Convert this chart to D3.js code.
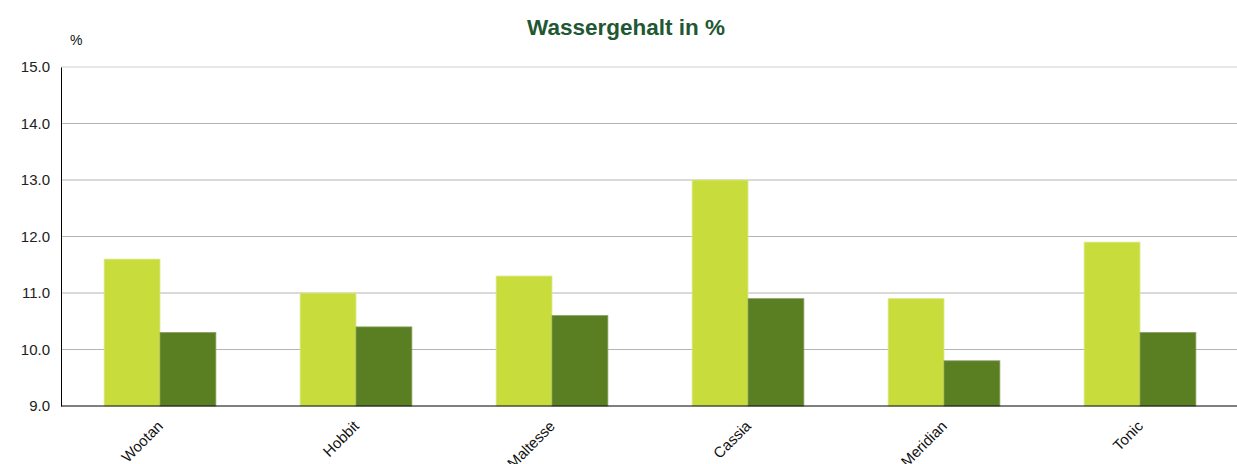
<!DOCTYPE html>
<html>
<head>
<meta charset="utf-8">
<script src="https://cdn.jsdelivr.net/npm/d3@7"></script>
<style>
  body { margin: 0; background: #fff; }
  text { font-family: "Liberation Sans", Arial, sans-serif; }
</style>
</head>
<body>
<script>
// chart data
var sorten = ["Wootan", "Hobbit", "Maltesse", "Cassia", "Meridian", "Tonic"];
var serieHell = [11.6, 11.0, 11.3, 13.0, 10.9, 11.9];
var serieDunkel = [10.3, 10.4, 10.6, 10.9, 9.8, 10.3];
var yTicks = [9, 10, 11, 12, 13, 14, 15];

var width = 1237, height = 464;
var margin = {top: 67, right: 0, bottom: 58, left: 61};

var svg = d3.select("body").append("svg")
    .attr("width", width)
    .attr("height", height);

var x = d3.scaleBand()
    .domain(sorten)
    .range([margin.left + 1, width + 1])
    .paddingInner(0.43)
    .paddingOuter(0.215);

var y = d3.scaleLinear()
    .domain([9, 15])
    .range([height - margin.bottom, margin.top]);

//gridlines
svg.append("g").selectAll("line")
    .data(yTicks.slice(1))
    .enter().append("line")
    .attr("x1", margin.left)
    .attr("x2", width)
    .attr("y1", function(d){ return y(d); })
    .attr("y2", function(d){ return y(d); })
    .attr("stroke", function(d){ return d === 15 ? "#d0d0d0" : "#b4b4b4"; })
    .attr("stroke-width", 1);

var half = x.bandwidth() / 2;

//bars
var groups = svg.append("g").selectAll("g")
    .data(sorten)
    .enter().append("g");

groups.append("rect")
    .attr("x", function(d){ return x(d); })
    .attr("y", function(d, i){ return y(serieHell[i]); })
    .attr("width", half)
    .attr("height", function(d, i){ return y(9) - y(serieHell[i]); })
    .attr("fill", "#c8dc3c")
    .attr("stroke", "#dbe88a")
    .attr("stroke-width", 0.8);

groups.append("rect")
    .attr("x", function(d){ return x(d) + half; })
    .attr("y", function(d, i){ return y(serieDunkel[i]); })
    .attr("width", half)
    .attr("height", function(d, i){ return y(9) - y(serieDunkel[i]); })
    .attr("fill", "#5a7e22")
    .attr("stroke", "#86a05e")
    .attr("stroke-width", 0.8);

// y axis
var yAxis = svg.append("g")
    .attr("transform", "translate(" + margin.left + ",0)")
    .call(d3.axisLeft(y).tickValues(yTicks).tickFormat(d3.format(".1f")).tickSize(0).tickPadding(11));
yAxis.select(".domain").attr("stroke", "#000");
yAxis.selectAll("text").attr("font-size", 15).attr("fill", "#222")
    .attr("font-family", "Liberation Sans, Arial, sans-serif");

// x axis
var xAxis = svg.append("g")
    .attr("transform", "translate(0," + y(9) + ")")
    .call(d3.axisBottom(x).tickSize(0).tickPadding(0));
xAxis.select(".domain").attr("stroke", "#000").attr("d", "M" + margin.left + ",0H" + width);
xAxis.selectAll("text")
    .attr("font-size", 15)
    .attr("fill", "#111")
    .attr("font-family", "Liberation Sans, Arial, sans-serif")
    .attr("text-anchor", "end")
    .attr("dy", 0)
    .attr("transform", "translate(4,21) rotate(-45)");

// unit label
svg.append("text")
    .attr("x", 70)
    .attr("y", 45)
    .attr("font-size", 14)
    .attr("fill", "#111")
    .text("%");

// title
svg.append("text")
    .attr("x", 626)
    .attr("y", 35)
    .attr("text-anchor", "middle")
    .attr("font-size", 22.5)
    .attr("font-weight", "bold")
    .attr("fill", "#215733")
    .text("Wassergehalt in %");
</script>
</body>
</html>
